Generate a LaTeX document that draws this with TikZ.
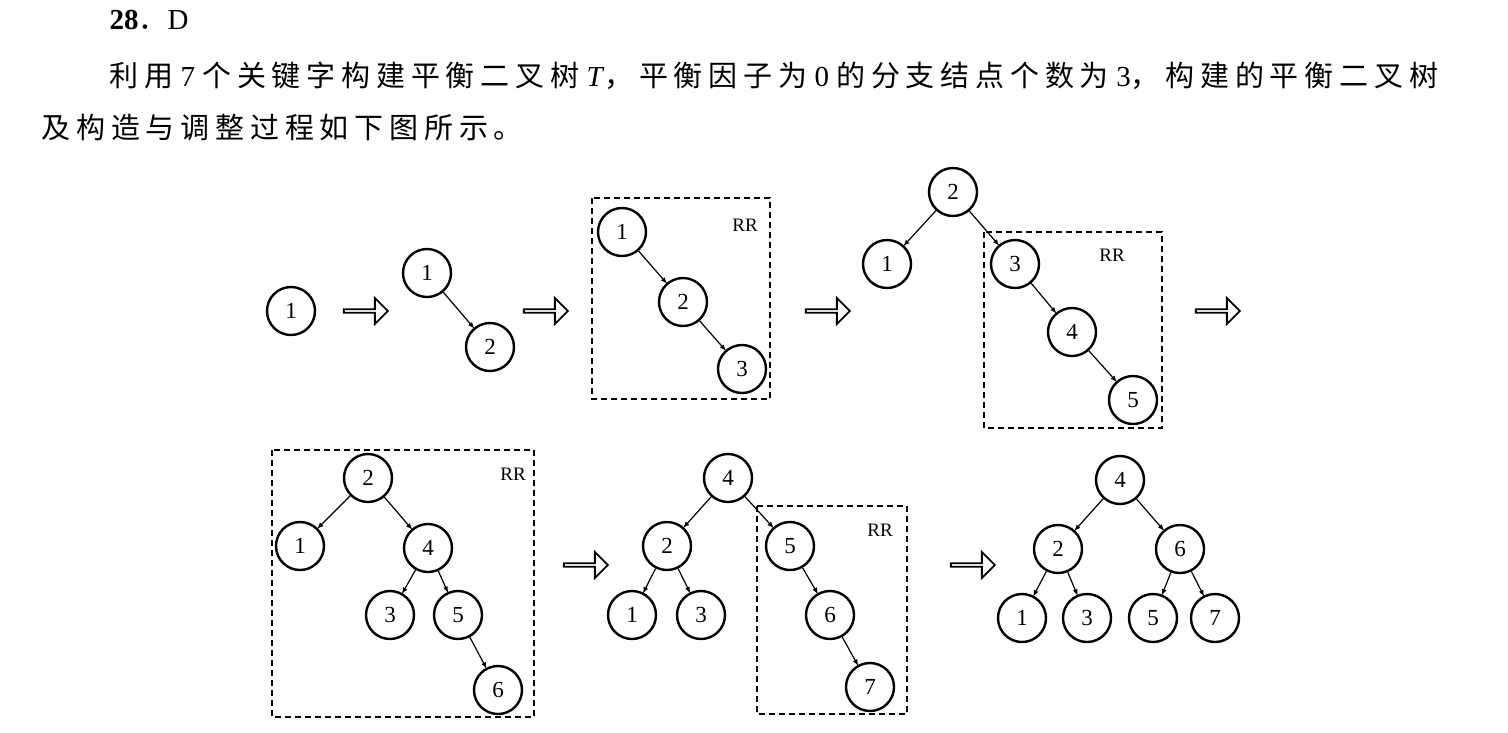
\documentclass[tikz,border=0pt]{standalone}
\usepackage{fontspec}
\setmainfont{Liberation Serif}
\newfontfamily\cjk[LetterSpace=20]{Noto Sans CJK SC}
\usetikzlibrary{shapes.arrows}
\begin{document}
\begin{tikzpicture}[x=1pt,y=-1pt,
  nd/.style={circle,draw,line width=2.4pt,minimum size=48pt,inner sep=0pt,font=\fontsize{23}{23}\selectfont},
  ed/.style={-latex,line width=1.2pt,shorten >=-1pt},
  box/.style={draw,dash pattern=on 6pt off 4pt,line width=1.2pt},
  rr/.style={font=\fontsize{19}{19}\selectfont},
  har/.style={single arrow,draw,line width=1.8pt,minimum height=44pt,minimum width=26pt,single arrow head extend=6pt,inner sep=0pt}]
\useasboundingbox (0,0) rectangle (1508,732);
\node[anchor=west,font=\fontsize{29}{29}\selectfont] (t0) at (106,20) {\textbf{28}{\cjk ．}D};
\node[anchor=west,font=\fontsize{29}{29}\selectfont] (t1) at (106,76) {{\cjk 利用} 7 {\cjk 个关键字构建平衡二叉树} \textit{T}{\cjk ，平衡因子为} 0 {\cjk 的分支结点个数为} 3{\cjk ，构建的平衡二叉树}};
\node[anchor=west,font=\fontsize{29}{29}\selectfont] (t2) at (38,128) {\cjk 及构造与调整过程如下图所示。};
% row 1
\node[nd] (a1) at (291,311) {1};
\node[har] (h1) at (365,311) {};
\node[nd] (b1) at (427,273) {1};
\node[nd] (b2) at (490,347) {2};
\draw[ed] (b1) -- (b2);
\node[har] (h2) at (545,311) {};
\draw[box] (592,198) rectangle (770,399);
\node[rr] (r1) at (745,225) {RR};
\node[nd] (c1) at (622,232) {1};
\node[nd] (c2) at (683,302) {2};
\node[nd] (c3) at (742,369) {3};
\draw[ed] (c1) -- (c2); \draw[ed] (c2) -- (c3);
\node[har] (h3) at (827,311) {};
\node[nd] (d2) at (953,192) {2};
\node[nd] (d1) at (887,264) {1};
\node[nd] (d3) at (1015,264) {3};
\node[nd] (d4) at (1072,332) {4};
\node[nd] (d5) at (1133,400) {5};
\draw[ed] (d2) -- (d1); \draw[ed] (d2) -- (d3); \draw[ed] (d3) -- (d4); \draw[ed] (d4) -- (d5);
\draw[box] (984,232) rectangle (1162,428);
\node[rr] (r2) at (1112,255) {RR};
\node[har] (h4) at (1217,311) {};
% row 2
\draw[box] (272,450) rectangle (534,717);
\node[rr] (r3) at (513,474) {RR};
\node[nd] (e2) at (368,478) {2};
\node[nd] (e1) at (300,546) {1};
\node[nd] (e4) at (428,548) {4};
\node[nd] (e3) at (390,615) {3};
\node[nd] (e5) at (458,615) {5};
\node[nd] (e6) at (498,690) {6};
\draw[ed] (e2) -- (e1); \draw[ed] (e2) -- (e4); \draw[ed] (e4) -- (e3); \draw[ed] (e4) -- (e5); \draw[ed] (e5) -- (e6);
\node[har] (h5) at (585,565) {};
\node[nd] (f4) at (728,478) {4};
\node[nd] (f2) at (667,546) {2};
\node[nd] (f5) at (790,546) {5};
\node[nd] (f1) at (632,615) {1};
\node[nd] (f3) at (701,615) {3};
\node[nd] (f6) at (830,615) {6};
\node[nd] (f7) at (870,687) {7};
\draw[ed] (f4) -- (f2); \draw[ed] (f4) -- (f5); \draw[ed] (f2) -- (f1); \draw[ed] (f2) -- (f3); \draw[ed] (f5) -- (f6); \draw[ed] (f6) -- (f7);
\draw[box] (757,506) rectangle (907,714);
\node[rr] (r4) at (880,530) {RR};
\node[har] (h6) at (972,565) {};
\node[nd] (g4) at (1120,480) {4};
\node[nd] (g2) at (1058,549) {2};
\node[nd] (g6) at (1180,549) {6};
\node[nd] (g1) at (1022,618) {1};
\node[nd] (g3) at (1087,618) {3};
\node[nd] (g5) at (1153,618) {5};
\node[nd] (g7) at (1215,618) {7};
\draw[ed] (g4) -- (g2); \draw[ed] (g4) -- (g6); \draw[ed] (g2) -- (g1); \draw[ed] (g2) -- (g3); \draw[ed] (g6) -- (g5); \draw[ed] (g6) -- (g7);
\end{tikzpicture}
\end{document}
